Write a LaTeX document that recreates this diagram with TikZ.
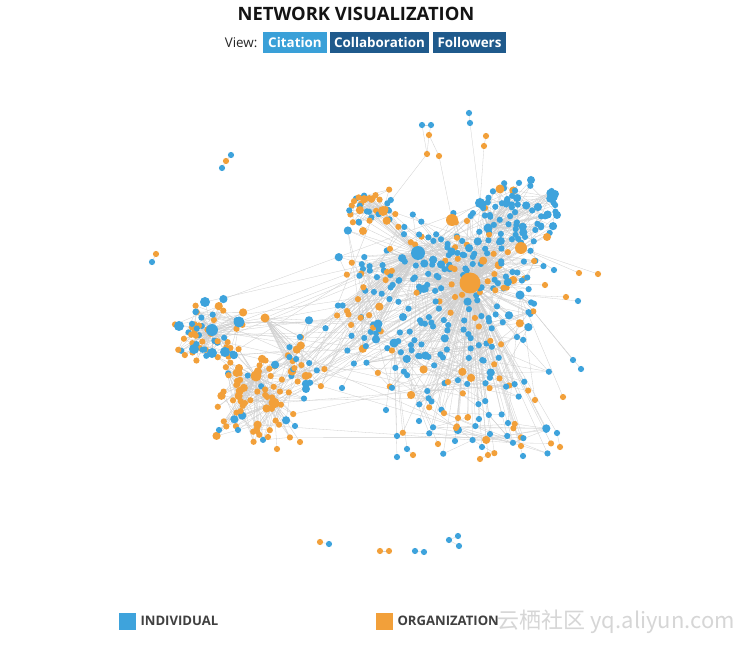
\documentclass[tikz,border=0pt]{standalone}
\usepackage{fontspec}
\setmainfont{Open Sans}
\newfontfamily\cjkfont{Noto Sans CJK SC}
\definecolor{ind}{RGB}{62,163,220}
\definecolor{org}{RGB}{242,160,58}
\definecolor{btnlight}{RGB}{58,160,216}
\definecolor{btndark}{RGB}{31,90,140}
\newcount\vc
\vc=0
% pass 1: positions and links of one group of nodes
\newcommand\cluster[9]{%
  \xdef\cfirst{\the\numexpr\vc+1\relax}%
  \foreach \k in {1,...,#5}{%
    \global\advance\vc by 1
    \pgfmathsetmacro\px{#1+#3*(1.4*rand+0.6*rand)}%
    \pgfmathsetmacro\py{#2+#4*(1.4*rand+0.6*rand)}%
    \pgfmathtruncatemacro\isorg{rnd<#6 ? 1 : 0}%
    \pgfmathsetmacro\dd{rnd<0.88 ? 6.2 : 8.2}%
    \ifnum\isorg=1 \def\fc{org}\else\def\fc{ind}\fi
    \expandafter\xdef\csname vcol\the\vc\endcsname{\fc}%
    \expandafter\xdef\csname vsz\the\vc\endcsname{\dd}%
    \coordinate (v\the\vc) at (\px,\py);
    \draw[edge] (v\the\vc) -- (#7);
    \ifnum\vc>\cfirst
      \pgfmathtruncatemacro\j{random(\cfirst,\the\vc-1)}%
      \draw[edge] (v\the\vc) -- (v\j);
    \fi
    \pgfmathtruncatemacro\far{rnd<#9 ? 1 : 0}%
    \ifnum\far=1 \draw[edge] (v\the\vc) -- (#8);\fi
  }}
\def\hublist{
  H1/470/283/21/org, O1/521/248/12/org, O2/452/220/12/org, O3/500/189/9/org,
  O4/383/211/10/org, O5/363/231/8/org, O6/547/237/8/org,
  B1/418/253/14/ind, B2/480/203/10/ind, B3/488/228/9/ind, B4/531/180/8/ind,
  B5/555/194/8/ind, B6/557/215/8/ind, B7/520/295/9/ind, B8/378/324/9/ind,
  B9/394/343/9/ind, B10/403/317/8/ind,
  L1/212/330/12/ind, L2/239/322/11/ind, L3/179/326/10/ind, L4/205/302/10/ind,
  L5/194/349/10/ind, L6/212/353/10/ind, L7/225/352/10/ind, L8/306/389/8/ind,
  LO1/256/376/11/org, LO2/274/403/11/org, LO3/265/318/9/org, LO4/239/368/8/org}
\def\scatlist{
  s1/231/155/ind/none, s2/226/161/org/s1, s3/222/168/ind/s2,
  s4/156/254/org/none, s5/152/262/ind/s4,
  s6/320/542/org/none, s7/329/544/ind/s6, s8/380/551/org/none, s9/389/551/org/s8,
  s10/415/551/ind/none, s11/424/552/ind/s10, s12/449/540/ind/none, s13/458/536/ind/s12, s14/459/546/ind/s12,
  s15/469/113/ind/none, s16/470/123/ind/s15, s17/422/125/ind/none, s18/431/125/ind/s17,
  s19/429/135/org/s18, s20/486/136/org/none, s21/484/146/org/s20, s22/427/154/org/s19, s23/439/156/org/s19,
  s24/598/274/org/O1, s25/579/273/org/O1, s26/566/297/org/B7, s27/545/285/org/H1, s28/554/270/ind/O1, s29/578/301/ind/B7,
  s30/581/369/ind/B7, s31/573/360/ind/B7, s32/563/397/org/B7, s33/557/433/ind/H1, s34/560/447/org/s33,
  s35/523/456/ind/H1, s36/521/446/org/H1, s37/488/455/org/H1, s38/480/459/org/s37, s39/482/447/ind/H1,
  s40/490/434/ind/H1, s41/438/444/org/B9, s42/455/441/ind/H1, s43/407/449/ind/B9, s44/397/457/ind/B9,
  s45/413/455/org/s43, s46/397/436/ind/B9, s47/419/421/ind/H1, s48/386/410/ind/B9, s49/458/418/org/H1,
  s50/468/417/org/H1, s51/479/419/ind/H1, s52/456/428/org/H1, s53/508/423/ind/B7, s54/535/400/org/B7,
  s55/342/388/ind/B8, s56/219/430/ind/LO2, s57/238/430/ind/LO2, s58/257/431/org/LO2, s59/277/449/org/LO2,
  s60/268/437/org/LO2, s61/295/426/ind/LO2, s62/300/442/org/LO2}
\def\none{none}
\begin{document}
\begin{tikzpicture}[x=1pt,y=-1pt,
  dot/.style={circle,inner sep=0pt,draw=none},
  edge/.style={draw=black!19,line width=0.3pt},
  btn/.style={inner sep=0pt,minimum height=21pt,text=white,font=\bfseries\fontsize{13.4}{15}\selectfont},
  legsq/.style={inner sep=0pt,minimum size=17pt},
  legtx/.style={anchor=west,text=black!75,font=\bfseries\fontsize{13.1}{15}\selectfont}]
\useasboundingbox[fill=white] (0,0) rectangle (740,647);
\pgfmathsetseed{11}

% header
\node[font=\bfseries\fontsize{18.4}{20}\selectfont,text=black!92] (title) at (356,14) {NETWORK VISUALIZATION};
\node[anchor=east,font=\fontsize{13.4}{15}\selectfont,text=black!85] (view) at (261,42.5) {View:};
\node[btn,fill=btnlight,minimum width=64pt] (cit) at (295,42.5) {Citation};
\node[btn,fill=btndark,minimum width=99pt] (col) at (379.5,42.5) {Collaboration};
\node[btn,fill=btndark,minimum width=73pt] (fol) at (469.5,42.5) {Followers};

% positions of hubs and scattered nodes
\foreach \nm/\x/\y/\d/\c in \hublist {\coordinate (\nm) at (\x,\y);}
\foreach \nm/\x/\y/\c/\t in \scatlist {\coordinate (\nm) at (\x,\y);}

% links
\foreach \a/\b in {H1/B1,H1/O1,H1/O2,H1/B7,B1/O2,B1/O4,O2/B2,B2/O3,B3/O1,B3/B2,B4/B3,B5/B3,B6/O1,
  O6/O1,O5/O4,B8/B1,B9/H1,B10/B1,B8/B9,L1/L2,L1/LO1,LO1/LO2,L2/B1,LO1/B1,L3/L1,L4/L1,L5/L1,L6/L1,
  L7/L1,L8/LO2,LO3/L2,LO4/LO1,L8/B8,LO3/B1,L2/B8,L1/H1,LO1/H1,L4/B1,
  s16/B2,s22/O4,s23/O2,s21/B2,s17/s22}
  {\draw[edge] (\a) -- (\b);}
\foreach \nm/\x/\y/\c/\t in \scatlist {%
  \edef\tgt{\t}%
  \ifx\tgt\none\else\draw[edge] (\nm) -- (\t);\fi}

% clusters (v1..v550)
\cluster{465}{268}{46}{33}{150}{0.22}{H1}{B1}{0.15}
\cluster{518}{210}{22}{16}{55}{0.08}{B3}{H1}{0.3}
\cluster{372}{207}{15}{12}{35}{0.65}{O4}{B1}{0.3}
\cluster{460}{358}{50}{28}{90}{0.25}{H1}{B1}{0.2}
\cluster{475}{430}{42}{14}{25}{0.35}{H1}{B9}{0.3}
\cluster{363}{302}{17}{37}{45}{0.35}{B1}{H1}{0.3}
\cluster{208}{328}{21}{18}{55}{0.55}{L1}{L2}{0.3}
\cluster{258}{396}{30}{29}{75}{0.75}{LO1}{LO2}{0.4}
\cluster{305}{350}{12}{25}{20}{0.45}{LO3}{B1}{0.5}

% long links between the two groups
\foreach \q in {1,...,40}{
  \pgfmathtruncatemacro\ia{random(401,550)}
  \pgfmathtruncatemacro\ib{random(1,400)}
  \draw[edge] (v\ia) -- (v\ib);}

% nodes on top
\foreach \i in {1,...,550}{%
  \node[dot,fill=\csname vcol\i\endcsname,minimum size=\csname vsz\i\endcsname] (n\i) at (v\i) {};}
\foreach \nm/\x/\y/\c/\t in \scatlist {\node[dot,fill=\c,minimum size=6.2] (n\nm) at (\nm) {};}
\foreach \nm/\x/\y/\d/\c in \hublist {\node[dot,fill=\c,minimum size=\d] (n\nm) at (\nm) {};}

% legend
\node[legsq,fill=ind] (lind) at (127.5,621) {};
\node[legtx] (tind) at (137,621) {INDIVIDUAL};
\node[legsq,fill=org] (lorg) at (384.5,621) {};
\node[legtx] (torg) at (394,621) {ORGANIZATION};
\node[anchor=west,text=black!16,font=\cjkfont\fontsize{22}{24}\selectfont] (wm) at (494,622) {云栖社区 yq.aliyun.com};
\end{tikzpicture}
\end{document}
